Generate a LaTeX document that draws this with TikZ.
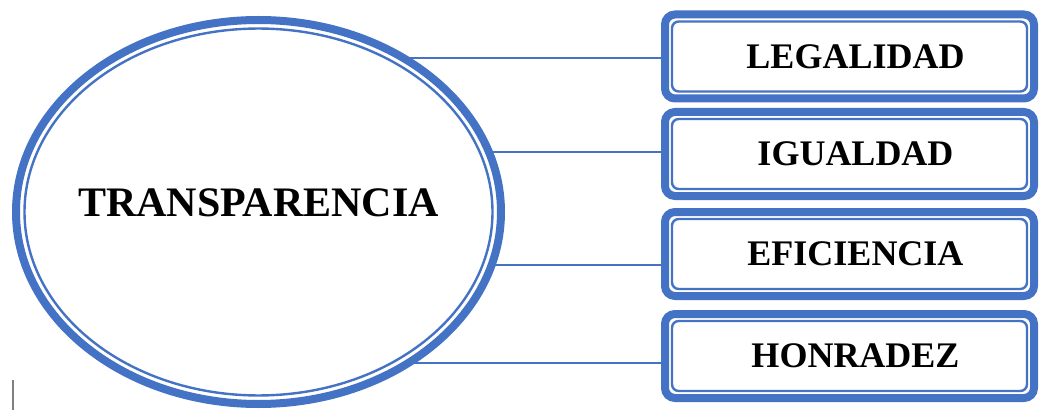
\documentclass[tikz,border=0pt]{standalone}
\usepackage{fontspec}
\setmainfont{Liberation Serif}
\usetikzlibrary{shapes.geometric,backgrounds}
\definecolor{azul}{HTML}{4472C4}

\begin{document}
\begin{tikzpicture}[x=0.75pt,y=-0.75pt]

        \useasboundingbox (0,0) rectangle (1040,410);

        \node[ellipse,draw=azul,line width=6pt,fill=white,inner sep=0pt,
              minimum width=363.75pt,minimum height=288pt] (0) at (258.5,212) {};
        \draw[azul,line width=1.8pt] (0.center) ellipse [x radius=175.5pt,y radius=137.6pt];
        \node[font=\bfseries\fontsize{31.5}{36}\selectfont] (t) at ([yshift=7pt]0.center) {TRANSPARENCIA};

        \begin{scope}[every node/.style={rectangle,rounded corners=7.5pt,draw=azul,
              line width=6pt,fill=white,minimum width=276.75pt,minimum height=63pt,
              execute at begin node={\hspace*{9pt}},
              font=\bfseries\fontsize{27}{32}\selectfont}]
          \node (1) at (849.5,56.5) {LEGALIDAD};
          \node (2) at (849.5,154)  {IGUALDAD};
          \node (3) at (849.5,254)  {EFICIENCIA};
          \node (4) at (849.5,356)  {HONRADEZ};
        \end{scope}

        \foreach \n in {1,...,4}
          \draw[azul,line width=1.8pt,rounded corners=5pt]
            ([shift={(8.25pt,8.25pt)}]\n.south west) rectangle ([shift={(-8.25pt,-8.25pt)}]\n.north east);

        \begin{scope}[on background layer]
          \begin{scope}[every edge/.style={draw=azul,line width=1.2pt}]
            \path ([yshift=-1.1pt]1.west -| 0.center) edge ([yshift=-1.1pt]1.west);
            \path ([yshift=1.5pt]2.west -| 0.center)  edge ([yshift=1.5pt]2.west);
            \path ([yshift=-8.25pt]3.west -| 0.center) edge ([yshift=-8.25pt]3.west);
            \path ([yshift=-5.25pt]4.west -| 0.center) edge ([yshift=-5.25pt]4.west);
          \end{scope}
        \end{scope}

        \draw[gray,line width=0.8pt] (13,380) -- (13,410);

      \end{tikzpicture}
\end{document}
